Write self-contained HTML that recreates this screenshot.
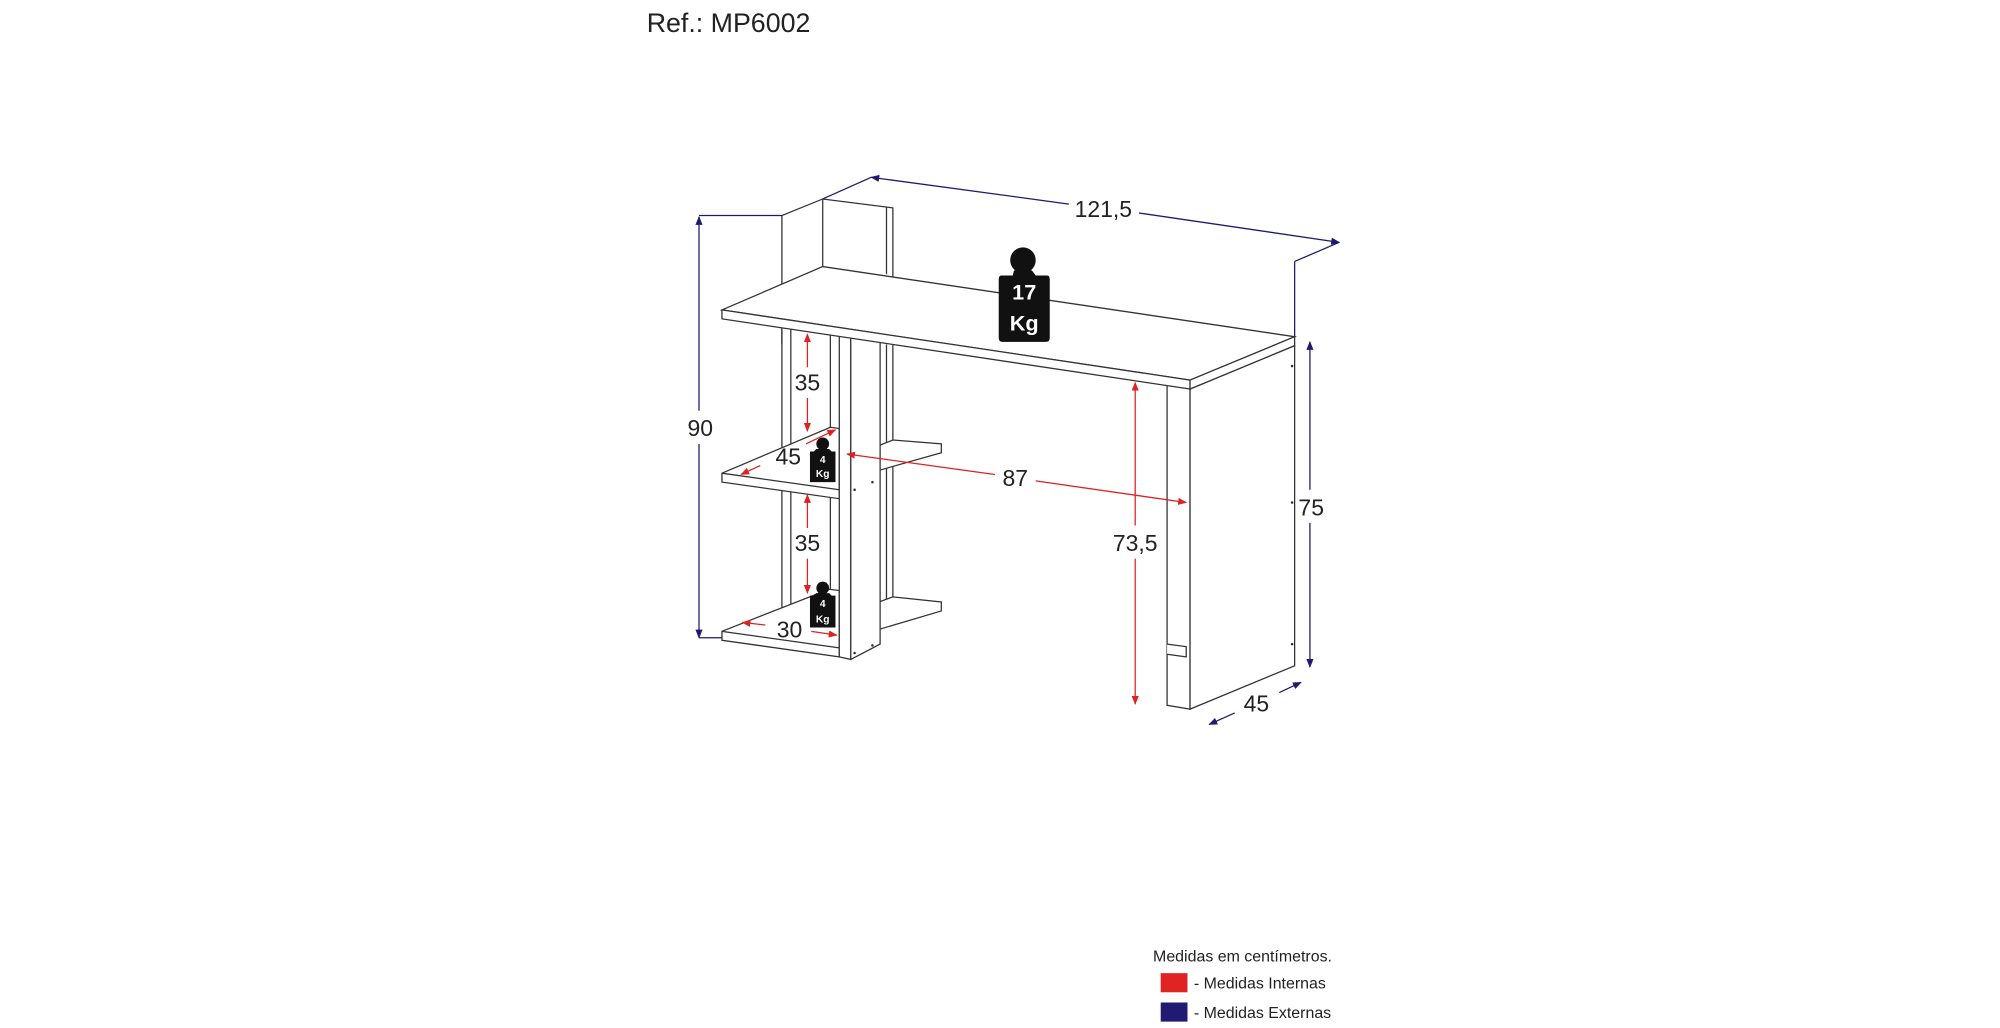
<!DOCTYPE html>
<html><head><meta charset="utf-8"><style>
html,body{margin:0;padding:0;background:#fff;}
svg{display:block}
text{font-family:"Liberation Sans",sans-serif;}
</style></head><body>
<svg width="2000" height="1028" viewBox="0 0 1568 806" xmlns="http://www.w3.org/2000/svg">
<defs>
<marker id="ab" viewBox="0 0 10 10" refX="9" refY="5" markerWidth="7" markerHeight="7" orient="auto-start-reverse"><path d="M0,1 L10,5 L0,9 z" fill="#1f1a6e"/></marker>
<marker id="ar" viewBox="0 0 10 10" refX="9" refY="5" markerWidth="7" markerHeight="7" orient="auto-start-reverse"><path d="M0,1 L10,5 L0,9 z" fill="#d22"/></marker>
</defs>
<text x="507" y="25" font-size="21" fill="#222">Ref.: MP6002</text>
<g fill="#fff" stroke="#333" stroke-width="1">
<!-- back panel -->
<polyline points="613,270 613,169 645,156 700,163 700,270" fill="none"/>
<line x1="645" y1="156" x2="645" y2="210"/>
<line x1="695" y1="162" x2="695" y2="215"/>
<!-- left uprights -->
<line x1="613" y1="250" x2="613" y2="495"/>
<line x1="620" y1="252" x2="620" y2="492"/>
<line x1="651" y1="262" x2="651" y2="465"/>
<line x1="695" y1="270" x2="695" y2="470"/>
<line x1="700" y1="270" x2="700" y2="470"/>
<!-- middle shelf -->
<polygon points="566,371 651,335 658,336 658,391 566,378"/>
<line x1="566" y1="371" x2="658" y2="384"/>
<polygon points="667,358 700,345 738,348 738,355 667,375"/>
<!-- bottom shelf -->
<polygon points="566,495 650,462 658,463 658,515 566,502"/>
<line x1="566" y1="495" x2="658" y2="508"/>
<polygon points="667,480 700,468 738,472 738,479 667,500"/>
<!-- pillar -->
<polygon points="658,262 667,264 667,517 658,515"/>
<polygon points="667,264 690,267 690,505 667,517"/>
<!-- right leg -->
<polygon points="915,300 933,305 933,556 915,553"/>
<polygon points="933,305 1015,271 1015,522 933,556"/>
<polyline points="915,505 930,507 930,515 915,513"/>
<!-- desktop -->
<polygon points="566,243 645,209 1015,264 933,298"/>
<polygon points="566,243 933,298 933,305 566,250"/>
<polygon points="933,298 1015,264 1015,271 933,305"/>
</g>
<g fill="#333"><circle cx="670" cy="384" r="1"/><circle cx="684" cy="378" r="1"/><circle cx="670" cy="512" r="1"/><circle cx="684" cy="506" r="1"/><circle cx="1013" cy="287" r="1"/><circle cx="1013" cy="394" r="1"/><circle cx="1013" cy="505" r="1"/></g>
<!-- blue dimension lines -->
<g stroke="#1f1a6e" stroke-width="1" fill="none">
<line x1="645" y1="156" x2="683" y2="139"/>
<line x1="1015" y1="264" x2="1015" y2="205"/><line x1="1015" y1="205" x2="1050" y2="190"/>
<line x1="683" y1="139" x2="838" y2="160" marker-start="url(#ab)"/>
<line x1="893" y1="167" x2="1050" y2="190" marker-end="url(#ab)"/>
<line x1="548" y1="169" x2="613" y2="169"/><line x1="548" y1="500" x2="566" y2="500"/>
<line x1="548" y1="170" x2="548" y2="322" marker-start="url(#ab)"/>
<line x1="548" y1="348" x2="548" y2="500" marker-end="url(#ab)"/>
<line x1="1027" y1="268" x2="1027" y2="384" marker-start="url(#ab)"/>
<line x1="1027" y1="410" x2="1027" y2="523" marker-end="url(#ab)"/>
<line x1="948" y1="568" x2="968" y2="559" marker-start="url(#ab)"/>
<line x1="1003" y1="543" x2="1020" y2="535" marker-end="url(#ab)"/>
</g>
<!-- red dimension lines -->
<g stroke="#d22" stroke-width="1" fill="none">
<line x1="633" y1="262" x2="633" y2="288" marker-start="url(#ar)"/>
<line x1="633" y1="312" x2="633" y2="338" marker-end="url(#ar)"/>
<line x1="633" y1="388" x2="633" y2="414" marker-start="url(#ar)"/>
<line x1="633" y1="438" x2="633" y2="465" marker-end="url(#ar)"/>
<line x1="581" y1="372" x2="596" y2="365" marker-start="url(#ar)"/>
<line x1="632" y1="348" x2="655" y2="337" marker-end="url(#ar)"/>
<line x1="664" y1="356" x2="780" y2="372" marker-start="url(#ar)"/>
<line x1="812" y1="377" x2="930" y2="394" marker-end="url(#ar)"/>
<line x1="890" y1="300" x2="890" y2="412" marker-start="url(#ar)"/>
<line x1="890" y1="438" x2="890" y2="552" marker-end="url(#ar)"/>
<line x1="582" y1="488" x2="600" y2="490" marker-start="url(#ar)"/>
<line x1="636" y1="495" x2="656" y2="498" marker-end="url(#ar)"/>
</g>
<g font-size="18" fill="#222" text-anchor="middle">
<text x="865" y="170">121,5</text>
<text x="549" y="342">90</text>
<text x="1028" y="404">75</text>
<text x="985" y="558">45</text>
<text x="633" y="306">35</text>
<text x="633" y="432">35</text>
<text x="618" y="364">45</text>
<text x="796" y="381">87</text>
<text x="890" y="432">73,5</text>
<text x="619" y="500">30</text>
</g>
<!-- weights -->
<g fill="#111">
<circle cx="802" cy="204" r="10"/>
<path d="M795,212 h14 l3,4 h9 q2,0 2,3 v46 q0,3 -3,3 h-34 q-3,0 -3,-3 v-46 q0,-3 2,-3 h9 z"/>
<circle cx="645" cy="348" r="5"/>
<path d="M640,352 h10 l2,2 h3 v24 h-20 v-24 h3 z"/>
<circle cx="645" cy="461" r="5"/>
<path d="M640,465 h10 l2,2 h3 v25 h-20 v-25 h3 z"/>
</g>
<g fill="#fff" font-weight="bold" text-anchor="middle">
<text x="803" y="235" font-size="17">17</text>
<text x="803" y="259" font-size="17">Kg</text>
<text x="645" y="363" font-size="8">4</text>
<text x="645" y="374" font-size="8">Kg</text>
<text x="645" y="476" font-size="8">4</text>
<text x="645" y="488" font-size="8">Kg</text>
</g>
<!-- legend -->
<text x="904" y="754" font-size="12.5" fill="#222">Medidas em centímetros.</text>
<rect x="910" y="763" width="21" height="15" fill="#e02424"/>
<text x="936" y="775" font-size="12.5" fill="#222">- Medidas Internas</text>
<rect x="910" y="786" width="21" height="15" fill="#211a72"/>
<text x="936" y="798" font-size="12.5" fill="#222">- Medidas Externas</text>
</svg>
</body></html>
